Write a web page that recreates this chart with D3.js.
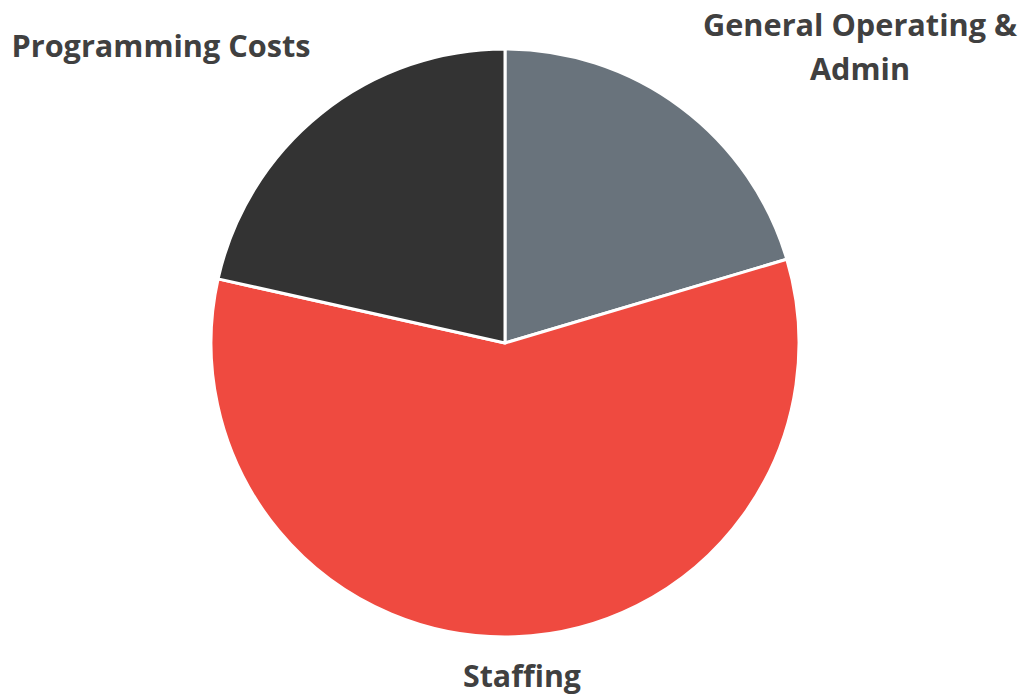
<!DOCTYPE html>
<html>
<head>
<meta charset="utf-8">
<script src="https://cdn.jsdelivr.net/npm/d3@7"></script>
<style>
  body { margin: 0; background: #fff; }
</style>
</head>
<body>
<div id="chart"></div>
<script>
var categories = ["General Operating & Admin", "Staffing", "Programming Costs"]
var values = [20.4, 58.1, 21.5]
var colors = ["#69737c", "#ef4a40", "#333333"]

var width = 1025, height = 696
var cx = 505, cy = 343, radius = 294

var svg = d3.select("#chart")
  .append("svg")
  .attr("width", width)
  .attr("height", height)

var g = svg.append("g")
  .attr("transform", "translate(" + cx + "," + cy + ")")

var pie = d3.pie().sort(null).value(function (d) { return d.value })
var arc = d3.arc().innerRadius(0).outerRadius(radius)

var data = categories.map(function (c, i) { return { name: c, value: values[i], color: colors[i] } })

g.selectAll("path")
  .data(pie(data))
  .enter()
  .append("path")
  .attr("d", arc)
  .attr("fill", function (d) { return d.data.color })
  .attr("stroke", "#fff")
  .attr("stroke-width", 3)
  .attr("stroke-linejoin", "round")

// labels (placed outside, as in the original)
var labels = [
  { lines: ["General Operating &", "Admin"], x: 860, y: [36, 80], len: [314, 100] },
  { lines: ["Staffing"], x: 522, y: [687], len: [118] },
  { lines: ["Programming Costs"], x: 161, y: [57], len: [299] }
]

labels.forEach(function (l) {
  l.lines.forEach(function (t, i) {
    svg.append("text")
      .attr("x", l.x)
      .attr("y", l.y[i])
      .attr("text-anchor", "middle")
      .attr("textLength", l.len[i])
      .attr("lengthAdjust", "spacingAndGlyphs")
      .style("font-family", "'Open Sans', sans-serif")
      .style("font-weight", "bold")
      .style("font-size", "30px")
      .style("fill", "#404040")
      .text(t)
  })
})
</script>
</body>
</html>
